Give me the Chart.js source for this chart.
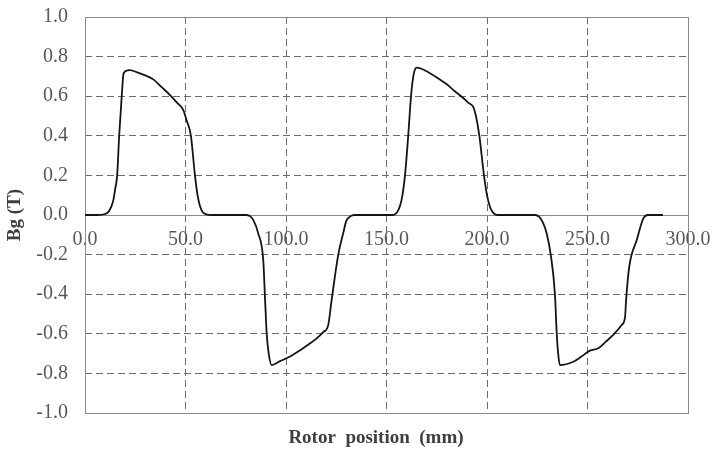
<!DOCTYPE html>
<html>
<head>
<meta charset="utf-8">
<script src="https://cdn.jsdelivr.net/npm/chart.js@4.4.0/dist/chart.umd.min.js"></script>
<style>
  html, body { margin: 0; padding: 0; background: #ffffff; }
  #wrap { width: 712px; height: 453px; }
</style>
</head>
<body>
<div id="wrap"><canvas id="myChart" width="712" height="453"></canvas></div>
<script>
// rotor position (mm) and air gap flux density Bg (T)
const rotorPos = [0, 6, 10, 12, 14, 15, 16, 17, 18.4, 19.2, 21, 22.4, 26, 30, 34, 38, 42.3, 46, 48.9, 50.5, 52.7, 54.7, 56, 57.2, 58.5, 60.5, 63,
    80, 82, 83.7, 86.2, 88.7, 89.6, 90.4, 91.4, 92.9, 97, 102, 107.8, 111.5, 115.3, 118.5, 121, 122.7, 126, 128.5, 130, 132, 134,
    153, 155.9, 157.5, 159.2, 160.8, 162.2, 163.5, 165, 167, 171, 175.8, 180, 184, 188, 191, 193.2, 194.5, 196.2, 198.5, 200, 201.5, 203, 205,
    224, 226, 228, 229.7, 231.7, 233.8, 234.7, 235.4, 236.3, 242.9, 247, 251.2, 255.4, 259, 262.8, 267, 268.7, 269.2, 270.8, 274.5, 277.8, 280, 287.5];
const bgValues = [0, 0, 0.005, 0.02, 0.07, 0.13, 0.2, 0.4, 0.62, 0.715, 0.73, 0.732, 0.72, 0.705, 0.685, 0.647, 0.606, 0.565, 0.53, 0.48, 0.4, 0.2, 0.1, 0.045, 0.015, 0.003, 0,
    0, -0.005, -0.025, -0.093, -0.23, -0.43, -0.6, -0.7, -0.758, -0.738, -0.715, -0.678, -0.652, -0.623, -0.592, -0.556, -0.43, -0.2, -0.09, -0.03, -0.007, 0,
    0, 0.025, 0.076, 0.2, 0.4, 0.6, 0.71, 0.744, 0.74, 0.72, 0.69, 0.66, 0.625, 0.592, 0.565, 0.545, 0.5, 0.4, 0.2, 0.1, 0.04, 0.012, 0,
    0, -0.01, -0.042, -0.093, -0.2, -0.4, -0.6, -0.7, -0.758, -0.741, -0.715, -0.685, -0.673, -0.641, -0.606, -0.556, -0.514, -0.43, -0.26, -0.126, -0.017, 0, 0];

const xTicks = [0, 50, 100, 150, 200, 250, 300];
const yTicks = [-1.0, -0.8, -0.6, -0.4, -0.2, 0.0, 0.2, 0.4, 0.6, 0.8, 1.0];
const xTitle = 'Rotor  position  (mm)';
const yTitle = 'Bg (T)';

const serif = "'Liberation Serif', 'Times New Roman', serif";
const gridGray = '#6e6e6e';
const boxGray = '#8a8a8a';

const points = rotorPos.map((x, i) => ({ x: x, y: bgValues[i] }));

// frame, zero line and x title
const frame = {
    id: 'frame',
    beforeDatasetsDraw(chart) {
        const { ctx, chartArea: a, scales } = chart;
        ctx.save();
        ctx.strokeStyle = boxGray;
        ctx.lineWidth = 1;
        ctx.setLineDash([]);
        ctx.strokeRect(a.left + 0.5, a.top + 0.5, a.right - a.left, a.bottom - a.top);
        const y0 = Math.round(scales.y.getPixelForValue(0)) + 0.5;
        ctx.beginPath();
        ctx.moveTo(a.left, y0);
        ctx.lineTo(a.right, y0);
        ctx.stroke();
        ctx.restore();
    },
    afterDraw(chart) {
        const ctx = chart.ctx;
        ctx.save();
        ctx.font = 'bold 19px ' + serif;
        ctx.fillStyle = '#3f3f3f';
        ctx.textAlign = 'center';
        ctx.textBaseline = 'middle';
        ctx.fillText(xTitle, 376, 438);
        ctx.restore();
    }
};

const hideEdges = (ctx) => {
    const v = ctx.tick ? ctx.tick.value : 0;
    return (Math.abs(v) < 1e-9 || Math.abs(Math.abs(v) - 1) < 1e-9 || Math.abs(v - 300) < 1e-9) ? 'rgba(0,0,0,0)' : gridGray;
};

// labels may hang outside the plot box, like in the original
const noLabelPadding = (scale) => {
    scale.paddingLeft = 0;
    scale.paddingRight = 0;
    scale.paddingTop = 0;
    scale.paddingBottom = 0;
};

const ctx = document.getElementById('myChart').getContext('2d');
const myChart = new Chart(ctx, {
    type: 'line',
    data: {
        datasets: [{
            label: 'Bg',
            data: points,
            borderColor: '#141414',
            borderWidth: 1.8,
            pointRadius: 0,
            fill: false,
            cubicInterpolationMode: 'monotone'
        }]
    },
    plugins: [frame],
    options: {
        responsive: false,
        animation: false,
        layout: { padding: { left: 0, right: 24, top: 17, bottom: 40 } },
        plugins: {
            legend: { display: false },
            tooltip: { enabled: false }
        },
        scales: {
            x: {
                type: 'linear',
                position: { y: 0 },
                min: 0,
                max: 300,
                afterBuildTicks: (scale) => { scale.ticks = xTicks.map(v => ({ value: v })); },
                afterFit: noLabelPadding,
                ticks: {
                    autoSkip: false,
                    maxRotation: 0,
                    padding: 13,
                    color: '#595959',
                    font: { family: serif, size: 20 },
                    callback: (v) => Number(v).toFixed(1)
                },
                grid: { color: hideEdges, drawTicks: false, lineWidth: 1 },
                border: { display: false, dash: [7, 4] }
            },
            y: {
                type: 'linear',
                position: 'left',
                min: -1,
                max: 1,
                afterBuildTicks: (scale) => { scale.ticks = yTicks.map(v => ({ value: v })); },
                afterFit: (scale) => { scale.width = 85; noLabelPadding(scale); },
                ticks: {
                    padding: 17,
                    color: '#595959',
                    font: { family: serif, size: 20 },
                    callback: (v) => Number(v).toFixed(1)
                },
                grid: { color: hideEdges, drawTicks: false, lineWidth: 1 },
                border: { display: false, dash: [7, 4] },
                title: {
                    display: true,
                    text: yTitle,
                    color: '#3f3f3f',
                    font: { family: serif, size: 19, weight: 'bold' },
                    padding: { top: 4, bottom: 4 }
                }
            }
        }
    }
});
</script>
</body>
</html>
